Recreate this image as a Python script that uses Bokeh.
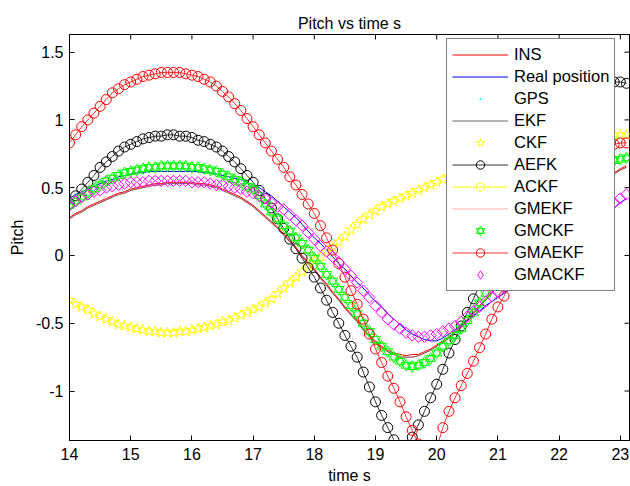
import math
from bokeh.plotting import figure
from bokeh.models import (Range1d, Legend, LegendItem, FixedTicker,
                          ColumnDataSource)
from bokeh.embed import file_html
from bokeh.resources import INLINE

FONT = "Liberation Sans"

# ---------------- data ----------------
t = [14.0, 14.1, 14.2, 14.3, 14.4, 14.5, 14.6, 14.7, 14.8, 14.9,
     15.0, 15.1, 15.2, 15.3, 15.4, 15.5, 15.6, 15.7, 15.8, 15.9,
     16.0, 16.1, 16.2, 16.3, 16.4, 16.5, 16.6, 16.7, 16.8, 16.9,
     17.0, 17.1, 17.2, 17.3, 17.4, 17.5, 17.6, 17.7, 17.8, 17.9,
     18.0, 18.1, 18.2, 18.3, 18.4, 18.5, 18.6, 18.7, 18.8, 18.9,
     19.0, 19.1, 19.2, 19.3, 19.4, 19.5, 19.6, 19.7, 19.8, 19.9,
     20.0, 20.1, 20.2, 20.3, 20.4, 20.5, 20.6, 20.7, 20.8, 20.9,
     21.0, 21.1, 21.2, 21.3, 21.4, 21.5, 21.6, 21.7, 21.8, 21.9,
     22.0, 22.1, 22.2, 22.3, 22.4, 22.5, 22.6, 22.7, 22.8, 22.9,
     23.0, 23.1]

ins = [0.28, 0.31, 0.33, 0.36, 0.38, 0.40, 0.42, 0.44, 0.46, 0.47,
       0.49, 0.50, 0.51, 0.52, 0.53, 0.53, 0.54, 0.54, 0.54, 0.54,
       0.54, 0.53, 0.53, 0.52, 0.51, 0.49, 0.47, 0.45, 0.43, 0.40,
       0.37, 0.33, 0.29, 0.25, 0.21, 0.16, 0.11, 0.06, 0.00, -0.05,
       -0.10, -0.16, -0.21, -0.27, -0.32, -0.38, -0.43, -0.48, -0.54, -0.59,
       -0.63, -0.67, -0.70, -0.72, -0.73, -0.74, -0.73, -0.73, -0.71, -0.69,
       -0.66, -0.63, -0.60, -0.56, -0.52, -0.47, -0.42, -0.37, -0.32, -0.27,
       -0.22, -0.17, -0.12, -0.07, -0.02, 0.03, 0.08, 0.13, 0.18, 0.23,
       0.28, 0.32, 0.36, 0.40, 0.44, 0.48, 0.52, 0.55, 0.58, 0.61,
       0.64, 0.66]

real_position = [0.42, 0.45, 0.47, 0.49, 0.51, 0.53, 0.55, 0.56, 0.58, 0.59,
                 0.60, 0.61, 0.61, 0.62, 0.62, 0.62, 0.62, 0.62, 0.62, 0.62,
                 0.62, 0.62, 0.61, 0.61, 0.60, 0.59, 0.58, 0.57, 0.56, 0.54,
                 0.52, 0.50, 0.47, 0.44, 0.40, 0.36, 0.32, 0.28, 0.23, 0.18,
                 0.13, 0.09, 0.04, -0.01, -0.06, -0.10, -0.15, -0.20, -0.24, -0.29,
                 -0.34, -0.38, -0.43, -0.47, -0.51, -0.55, -0.58, -0.60, -0.62, -0.63,
                 -0.63, -0.61, -0.58, -0.55, -0.51, -0.48, -0.44, -0.41, -0.37, -0.34,
                 -0.31, -0.28, -0.25, -0.22, -0.19, -0.15, -0.12, -0.09, -0.06, -0.02,
                 0.01, 0.05, 0.08, 0.12, 0.15, 0.19, 0.23, 0.27, 0.31, 0.35,
                 0.39, 0.42]

ekf = [0.27, 0.30, 0.32, 0.35, 0.37, 0.39, 0.41, 0.43, 0.45, 0.46,
       0.48, 0.49, 0.50, 0.51, 0.52, 0.52, 0.53, 0.53, 0.53, 0.53,
       0.53, 0.52, 0.52, 0.51, 0.50, 0.48, 0.46, 0.44, 0.42, 0.39,
       0.36, 0.32, 0.28, 0.24, 0.20, 0.15, 0.10, 0.05, -0.01, -0.06,
       -0.11, -0.17, -0.22, -0.28, -0.33, -0.39, -0.44, -0.49, -0.55, -0.60,
       -0.64, -0.68, -0.71, -0.73, -0.75, -0.75, -0.75, -0.74, -0.72, -0.70,
       -0.67, -0.64, -0.61, -0.57, -0.53, -0.48, -0.43, -0.38, -0.33, -0.28,
       -0.23, -0.18, -0.13, -0.08, -0.03, 0.02, 0.07, 0.12, 0.17, 0.22,
       0.27, 0.31, 0.35, 0.39, 0.43, 0.47, 0.51, 0.54, 0.57, 0.60,
       0.63, 0.65]

ckf = [-0.33, -0.36, -0.38, -0.40, -0.43, -0.45, -0.47, -0.49, -0.51, -0.52,
       -0.53, -0.54, -0.55, -0.56, -0.56, -0.57, -0.57, -0.57, -0.56, -0.56,
       -0.55, -0.54, -0.53, -0.52, -0.51, -0.49, -0.48, -0.46, -0.44, -0.42,
       -0.40, -0.38, -0.35, -0.32, -0.28, -0.24, -0.20, -0.16, -0.12, -0.08,
       -0.04, -0.01, 0.03, 0.06, 0.10, 0.14, 0.19, 0.23, 0.27, 0.30,
       0.33, 0.36, 0.38, 0.40, 0.42, 0.44, 0.46, 0.48, 0.50, 0.52,
       0.54, 0.56, 0.58, 0.60, 0.62, 0.64, 0.66, 0.67, 0.69, 0.70,
       0.72, 0.73, 0.74, 0.76, 0.77, 0.78, 0.79, 0.80, 0.81, 0.82,
       0.83, 0.84, 0.85, 0.85, 0.86, 0.87, 0.87, 0.88, 0.88, 0.89,
       0.89, 0.89]

aefk = [0.38, 0.44, 0.49, 0.54, 0.59, 0.65, 0.69, 0.73, 0.77, 0.80,
        0.82, 0.84, 0.86, 0.87, 0.88, 0.88, 0.89, 0.89, 0.88, 0.88,
        0.87, 0.85, 0.84, 0.82, 0.80, 0.77, 0.73, 0.69, 0.64, 0.59,
        0.54, 0.48, 0.42, 0.35, 0.27, 0.20, 0.12, 0.05, -0.02, -0.09,
        -0.16, -0.24, -0.33, -0.42, -0.50, -0.59, -0.67, -0.75, -0.86, -0.97,
        -1.08, -1.18, -1.27, -1.36, -1.46, -1.42, -1.34, -1.25, -1.15, -1.05,
        -0.95, -0.84, -0.72, -0.62, -0.52, -0.42, -0.32, -0.22, -0.12, -0.02,
        0.08, 0.18, 0.28, 0.38, 0.48, 0.58, 0.67, 0.76, 0.85, 0.93,
        1.00, 1.06, 1.11, 1.15, 1.19, 1.22, 1.24, 1.26, 1.27, 1.28,
        1.28, 1.27]

gmekf = [0.27, 0.30, 0.32, 0.35, 0.37, 0.39, 0.41, 0.43, 0.45, 0.46,
         0.48, 0.49, 0.50, 0.51, 0.52, 0.52, 0.53, 0.53, 0.53, 0.53,
         0.53, 0.52, 0.52, 0.51, 0.50, 0.48, 0.46, 0.44, 0.42, 0.39,
         0.36, 0.32, 0.28, 0.24, 0.20, 0.15, 0.10, 0.05, -0.01, -0.06,
         -0.11, -0.17, -0.22, -0.28, -0.33, -0.39, -0.44, -0.49, -0.55, -0.60,
         -0.64, -0.68, -0.71, -0.73, -0.75, -0.75, -0.75, -0.74, -0.72, -0.70,
         -0.67, -0.64, -0.61, -0.57, -0.53, -0.48, -0.43, -0.38, -0.33, -0.28,
         -0.23, -0.18, -0.13, -0.08, -0.03, 0.02, 0.07, 0.12, 0.17, 0.22,
         0.27, 0.31, 0.35, 0.39, 0.43, 0.47, 0.51, 0.54, 0.57, 0.60,
         0.63, 0.65]

gmckf = [0.37, 0.40, 0.43, 0.46, 0.49, 0.52, 0.55, 0.57, 0.59, 0.61,
         0.62, 0.63, 0.64, 0.65, 0.65, 0.66, 0.66, 0.66, 0.66, 0.66,
         0.65, 0.65, 0.64, 0.63, 0.62, 0.60, 0.58, 0.56, 0.54, 0.51,
         0.49, 0.44, 0.38, 0.32, 0.27, 0.22, 0.18, 0.13, 0.09, 0.04,
         -0.02, -0.08, -0.14, -0.19, -0.25, -0.31, -0.37, -0.43, -0.50, -0.56,
         -0.62, -0.67, -0.71, -0.75, -0.78, -0.81, -0.82, -0.81, -0.79, -0.76,
         -0.72, -0.67, -0.63, -0.59, -0.54, -0.48, -0.42, -0.35, -0.28, -0.22,
         -0.16, -0.10, -0.04, 0.02, 0.08, 0.14, 0.20, 0.26, 0.31, 0.36,
         0.41, 0.46, 0.50, 0.54, 0.57, 0.60, 0.63, 0.66, 0.68, 0.70,
         0.71, 0.72]

gmaekf = [0.83, 0.89, 0.95, 1.00, 1.05, 1.10, 1.15, 1.20, 1.23, 1.26,
          1.28, 1.30, 1.32, 1.33, 1.34, 1.35, 1.35, 1.35, 1.35, 1.34,
          1.33, 1.32, 1.30, 1.28, 1.25, 1.21, 1.17, 1.12, 1.07, 1.01,
          0.95, 0.89, 0.83, 0.77, 0.71, 0.65, 0.58, 0.52, 0.45, 0.38,
          0.31, 0.22, 0.13, 0.04, -0.06, -0.16, -0.26, -0.36, -0.47, -0.58,
          -0.69, -0.79, -0.89, -0.98, -1.08, -1.19, -1.29, -1.39, -1.48, -1.52,
          -1.42, -1.27, -1.15, -1.05, -0.96, -0.87, -0.78, -0.68, -0.58, -0.47,
          -0.38, -0.30, -0.21, -0.12, -0.03, 0.06, 0.15, 0.24, 0.33, 0.41,
          0.49, 0.56, 0.62, 0.67, 0.71, 0.75, 0.78, 0.80, 0.81, 0.82,
          0.83, 0.83]

gmackf = [0.37, 0.40, 0.43, 0.45, 0.47, 0.48, 0.50, 0.51, 0.52, 0.53,
          0.54, 0.54, 0.54, 0.55, 0.55, 0.55, 0.55, 0.55, 0.55, 0.55,
          0.54, 0.54, 0.54, 0.53, 0.52, 0.52, 0.51, 0.50, 0.49, 0.47,
          0.46, 0.44, 0.42, 0.39, 0.36, 0.34, 0.30, 0.26, 0.22, 0.17,
          0.12, 0.07, 0.03, -0.01, -0.05, -0.10, -0.15, -0.20, -0.26, -0.31,
          -0.37, -0.42, -0.47, -0.51, -0.54, -0.57, -0.59, -0.60, -0.60, -0.59,
          -0.58, -0.56, -0.54, -0.52, -0.49, -0.45, -0.41, -0.38, -0.34, -0.30,
          -0.27, -0.23, -0.20, -0.16, -0.13, -0.09, -0.06, -0.02, 0.01, 0.05,
          0.08, 0.12, 0.15, 0.19, 0.22, 0.26, 0.29, 0.32, 0.36, 0.39,
          0.42, 0.45]

x_ticks = [14, 15, 16, 17, 18, 19, 20, 21, 22, 23]
y_ticks = [-1, -0.5, 0, 0.5, 1, 1.5]
y_tick_labels = ["-1", "-0.5", "0", "0.5", "1", "1.5"]

for arr in (ins, real_position, ekf, ckf, aefk, gmekf, gmckf, gmaekf, gmackf):
    assert len(arr) == len(t), len(arr)

# ---------------- layout ----------------
W, H = 630, 486
B_LEFT, B_RIGHT, B_TOP, B_BOTTOM = 69, 1, 34, 43
FRAME_W = W - B_LEFT - B_RIGHT
FRAME_H = H - B_TOP - B_BOTTOM
X_LO, X_HI = 14, 23.15
Y_LO, Y_HI = -1.365, 1.63
TICK_PX = 5

p = figure(width=W, height=H,
           x_range=Range1d(X_LO, X_HI), y_range=Range1d(Y_LO, Y_HI),
           output_backend="svg", toolbar_location=None,
           min_border_left=B_LEFT, min_border_right=B_RIGHT,
           min_border_top=B_TOP, min_border_bottom=B_BOTTOM,
           title="Pitch vs time s")
p.title.align = "center"
p.title.text_font = FONT
p.title.text_font_size = "16px"
p.title.text_font_style = "normal"
p.title.text_color = "black"
p.title.standoff = 5

p.xgrid.visible = False
p.ygrid.visible = False
p.outline_line_color = "black"
p.outline_line_width = 1
p.background_fill_color = "white"
p.border_fill_color = "white"

def style_axis(ax, size):
    ax.axis_line_color = "black"
    ax.major_tick_line_color = "black"
    ax.major_tick_in = TICK_PX
    ax.major_tick_out = 0
    ax.minor_tick_line_color = None
    ax.major_label_text_font = FONT
    ax.major_label_text_color = "black"
    ax.major_label_text_font_size = size
    ax.axis_label_text_font = FONT
    ax.axis_label_text_font_style = "normal"
    ax.axis_label_text_color = "black"
    ax.axis_label_text_font_size = size

xa = p.xaxis[0]
xa.ticker = FixedTicker(ticks=x_ticks)
style_axis(xa, "16px")
xa.major_label_standoff = 7
xa.axis_label = "time s"
xa.axis_label_standoff = 4

ya = p.yaxis[0]
ya.ticker = FixedTicker(ticks=y_ticks)
ya.major_label_overrides = {v: s for v, s in zip(y_ticks, y_tick_labels)}
style_axis(ya, "16px")
ya.major_label_standoff = 6
ya.axis_label = "Pitch"
ya.axis_label_standoff = 7

# inward tick marks on the top and right edges of the box
dy = TICK_PX * (Y_HI - Y_LO) / FRAME_H
dx = TICK_PX * (X_HI - X_LO) / FRAME_W
p.segment(x0=x_ticks, y0=[Y_HI] * len(x_ticks), x1=x_ticks,
          y1=[Y_HI - dy] * len(x_ticks), line_color="black", line_width=1)
p.segment(x0=[X_HI] * len(y_ticks), y0=y_ticks, x1=[X_HI - dx] * len(y_ticks),
          y1=y_ticks, line_color="black", line_width=1)

src = ColumnDataSource(dict(t=t, ins=ins, real=real_position, ekf=ekf, ckf=ckf,
                            aefk=aefk, gmekf=gmekf, gmckf=gmckf,
                            gmaekf=gmaekf, gmackf=gmackf))

r_ins = p.line("t", "ins", source=src, line_color="#ff0000", line_width=1)
r_real = p.line("t", "real", source=src, line_color="#0000ff", line_width=1)
# GPS: no point of it is visible in the picture -> legend swatch only
r_gps = p.scatter("t", "real", source=src, marker="dot", size=18,
                  line_color="#00ffff", fill_color="#00ffff", visible=False)
r_ekf = p.line("t", "ekf", source=src, line_color="black", line_width=0.6)
r_ckf = p.scatter("t", "ckf", source=src, marker="star", size=11,
                  fill_color=None, line_color="#ffff00", line_width=1)
r_aefk_l = p.line("t", "aefk", source=src, line_color="black", line_width=0.8)
r_aefk_m = p.scatter("t", "aefk", source=src, marker="circle", size=10,
                     fill_color=None, line_color="black", line_width=1)
# ACKF: not visible in the picture -> legend swatch only
r_ackf_l = p.line("t", "ckf", source=src, line_color="#ffff00", line_width=1,
                  visible=False)
r_ackf_m = p.scatter("t", "ckf", source=src, marker="circle", size=10,
                     fill_color=None, line_color="#ffff00", line_width=1,
                     visible=False)
r_gmekf = p.line("t", "gmekf", source=src, line_color="#ff0000", line_width=0.6,
                 line_alpha=0.55)
r_gmckf_a = p.scatter("t", "gmckf", source=src, marker="triangle", size=10,
                      fill_color=None, line_color="#00ff00", line_width=1)
r_gmckf_b = p.scatter("t", "gmckf", source=src, marker="inverted_triangle", size=10,
                      fill_color=None, line_color="#00ff00", line_width=1)
r_gmaekf_l = p.line("t", "gmaekf", source=src, line_color="#ff0000", line_width=0.8)
r_gmaekf_m = p.scatter("t", "gmaekf", source=src, marker="circle", size=10,
                       fill_color=None, line_color="#ff0000", line_width=1)
r_gmackf = p.scatter("t", "gmackf", source=src, marker="square", size=8,
                     angle=math.pi / 4, fill_color=None, line_color="#ff00ff",
                     line_width=1)
# legend swatch for the diamond marker
r_gmackf_key = p.scatter("t", "gmackf", source=src, marker="diamond", size=14,
                         fill_color=None, line_color="#ff00ff", line_width=1,
                         visible=False)

items = [
    LegendItem(label="INS", renderers=[r_ins]),
    LegendItem(label="Real position", renderers=[r_real]),
    LegendItem(label="GPS", renderers=[r_gps]),
    LegendItem(label="EKF", renderers=[r_ekf]),
    LegendItem(label="CKF", renderers=[r_ckf]),
    LegendItem(label="AEFK", renderers=[r_aefk_l, r_aefk_m]),
    LegendItem(label="ACKF", renderers=[r_ackf_l, r_ackf_m]),
    LegendItem(label="GMEKF", renderers=[r_gmekf]),
    LegendItem(label="GMCKF", renderers=[r_gmckf_a, r_gmckf_b]),
    LegendItem(label="GMAEKF", renderers=[r_gmaekf_l, r_gmaekf_m]),
    LegendItem(label="GMACKF", renderers=[r_gmackf_key]),
]
legend = Legend(items=items, location=(377, 149))
legend.label_text_font = FONT
legend.label_text_font_size = "16.5px"
legend.label_text_color = "black"
legend.label_height = 21
legend.glyph_height = 21
legend.glyph_width = 56
legend.label_standoff = 6
legend.spacing = 1
legend.padding = 5
legend.margin = 0
legend.border_line_color = "black"
legend.border_line_width = 1
legend.background_fill_color = "white"
legend.background_fill_alpha = 1.0
legend.inactive_fill_alpha = 0.0
p.add_layout(legend)

open("out.html", "w").write(file_html(p, INLINE))
